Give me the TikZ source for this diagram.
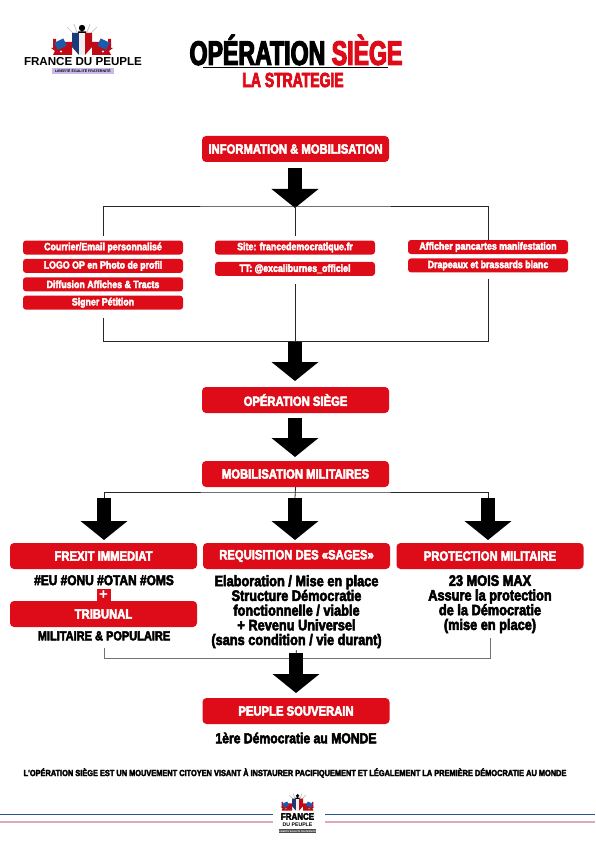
\documentclass[tikz,border=0pt]{standalone}
\usepackage{fontspec}
\usepackage{tikz}
\usetikzlibrary{positioning,arrows.meta,calc}
\setmainfont{Liberation Sans}
\newfontfamily\impact[FakeStretch=0.68,FakeBold=3.5]{Liberation Sans Bold}
\newfontfamily\impactl[FakeStretch=0.84,FakeBold=3.5]{Liberation Sans Bold}
\definecolor{rouge}{RGB}{222,12,24}
\definecolor{bleuflag}{RGB}{28,58,120}
\definecolor{bleuclair}{RGB}{30,90,170}
\definecolor{bleuligne}{RGB}{38,84,140}
\definecolor{roseligne}{RGB}{226,168,186}
\tikzstyle{casella} = [rectangle, rounded corners=4pt, fill=rouge, text=white,
    minimum width=187pt, minimum height=26pt, inner sep=0pt, font=\impactl\fontsize{13.4}{14}\selectfont]
\tikzstyle{petite} = [rectangle, rounded corners=3pt, fill=rouge, text=white,
    minimum width=160pt, minimum height=14pt, inner sep=0pt, font=\impactl\fontsize{10.5}{11}\selectfont]
\tikzstyle{texte} = [align=center, text=black, inner sep=0pt, font=\impactl\fontsize{15.2}{14.7}\selectfont]
\tikzstyle{filet} = [draw=black!85, line width=0.8pt]
\tikzstyle{fleche} = [draw=black, line width=14pt, -{Triangle[width=46pt,length=19pt]}]
\tikzset{
  drapeaux/.pic={
    \draw[black!25, line width=0.7pt] (-4,-8) -- (-8,-19) (4,-8) -- (8,-19) (-7,-8) -- (-15,-16) (7,-8) -- (15,-16);
    \fill[black] (0,-15) circle (3.2) (-4,-9) rectangle (4,-11.5);
    \fill[bleuflag] (-10,-10) -- (-3,-10) -- (-3,12) -- (-10,4) -- cycle;
    \fill[black!6] (-3,-10) rectangle (3,12);
    \fill[rouge!85!black] (3,-10) -- (10,-10) -- (10,4) -- (3,12) -- cycle;
    \foreach \s in {-1,1} {
      \fill[rouge!85!black] (\s*10,-1) -- (\s*19,-1) -- (\s*21,5) -- (\s*10,5) -- cycle;
      \fill[rouge!85!black] (\s*10,5) -- (\s*31,5) -- (\s*27,8) -- (\s*29,12) -- (\s*10,12) -- cycle;
      \fill[white] (\s*21,8.5) circle (1.1);
      \fill[rouge!85!black] (\s*29,-4) -- (\s*26,-4) -- (\s*26,3) -- (\s*20,3) -- (\s*20,5) -- (\s*29,5) -- cycle;
      \fill[bleuclair, rotate=\s*(-25)] ($(\s*20,-8)+(-5,-4)$) rectangle ++(10,8);
    }
  }
}
\begin{document}
\begin{tikzpicture}[x=1pt,y=-1pt]
  \useasboundingbox (0,0) rectangle (595,842);
  % en-tete
  \pic at (82,43) {drapeaux};
  \node [inner sep=0pt, font=\bfseries\fontsize{11.6}{12}\selectfont] (nomhaut) at (83,62) {FRANCE DU PEUPLE};
  \node [fill=roseligne!60!blue!45, minimum width=62pt, minimum height=6pt, inner sep=0pt,
    font=\bfseries\fontsize{3.6}{4}\selectfont] (devisehaut) at (83,71) {LIBERTÉ ÉGALITÉ FRATERNITÉ};
  \node [inner sep=0pt, font=\impact\fontsize{34}{36}\selectfont] (titre) at (296,50)
    {OPÉRATION \textcolor{rouge}{SIÈGE}};
  \coordinate (titreg) at (203,67);
  \coordinate (titred) at (388,67);
  \draw [black, line width=0.8pt] (titreg) -- (titred);
  \node [inner sep=0pt, text=rouge, font=\impact\fontsize{20.5}{22}\selectfont] (strategie) at (293,80) {LA STRATEGIE};

  \node [casella] (info) at (295.5,149) {INFORMATION \& MOBILISATION};
  \coordinate (fl1a) at (295,168);
  \coordinate (fl1b) at (295,208);
  \draw [fleche] (fl1a) -- (fl1b);
  \coordinate (fourche1) at (295,206);

  % trois colonnes
  \node [petite] (courrier) at (103,247.5) {Courrier/Email personnalisé};
  \node [petite, below=4pt of courrier] (logo) {LOGO OP en Photo de profil};
  \node [petite, below=4pt of logo] (diffusion) {Diffusion Affiches \& Tracts};
  \node [petite, below=4pt of diffusion] (signer) {Signer Pétition};
  \node [petite] (site) at (295,247.5) {Site: francedemocratique.fr};
  \node [petite, below=7pt of site] (tt) {TT: @excaliburnes\_officiel};
  \node [petite] (afficher) at (488,247) {Afficher pancartes manifestation};
  \node [petite, below=4pt of afficher] (brassards) {Drapeaux et brassards blanc};

  \draw [filet, shorten <=4pt] (courrier.north) |- (fourche1) -| (afficher.north);
  \draw [filet, shorten <=4pt] (site.north) -- (fourche1);
  \coordinate (joint1) at (295,341.5);
  \draw [filet, shorten <=8pt] (signer.south) |- (joint1);
  \draw [filet, shorten <=6pt] (brassards.south) |- (joint1);
  \draw [filet, shorten <=8pt] (tt.south) -- (joint1);

  \coordinate (fl2a) at (295,342);
  \coordinate (fl2b) at (295,381);
  \draw [fleche] (fl2a) -- (fl2b);
  \node [casella] (siege) at (295.5,400) {OPÉRATION SIÈGE};
  \coordinate (fl3a) at (295,418);
  \coordinate (fl3b) at (295,457);
  \draw [fleche] (fl3a) -- (fl3b);
  \node [casella] (militaires) at (295.5,474) {MOBILISATION MILITAIRES};

  \coordinate (fourche2) at (295,492);
  \coordinate (fl4a) at (104,498);
  \coordinate (fl4b) at (104,540);
  \coordinate (fl5a) at (295,498);
  \coordinate (fl5b) at (295,540);
  \coordinate (fl6a) at (488,498);
  \coordinate (fl6b) at (488,540);
  \draw [filet] (fl4a) |- (fourche2) -| (fl6a);
  \draw [filet] (militaires.south) -- (fl5a);
  \draw [fleche] (fl4a) -- (fl4b);
  \draw [fleche] (fl5a) -- (fl5b);
  \draw [fleche] (fl6a) -- (fl6b);

  \node [casella] (frexit) at (103.5,556) {FREXIT IMMEDIAT};
  \node [casella] (sages) at (296.5,556) {REQUISITION DES «SAGES»};
  \node [casella] (protection) at (490,556) {PROTECTION MILITAIRE};

  \node [texte, anchor=north, font=\impactl\fontsize{14.2}{14.7}\selectfont] (sigles) at (104,575) {\#EU \#ONU \#OTAN \#OMS};
  \node [fill=rouge, text=white, minimum width=14pt, minimum height=12pt, inner sep=0pt,
    font=\bfseries\fontsize{15}{15}\selectfont] (plus) at (103.5,595) {+};
  \node [casella] (tribunal) at (103.5,614) {TRIBUNAL};
  \node [texte, anchor=north, font=\impactl\fontsize{13.1}{14.7}\selectfont] (populaire) at (104,631) {MILITAIRE \& POPULAIRE};
  \node [texte, anchor=north] (elaboration) at (296.5,575) {Elaboration / Mise en place\\Structure Démocratie\\fonctionnelle / viable\\+ Revenu Universel\\(sans condition / vie durant)};
  \node [texte, anchor=north] (mois) at (490,575) {23 MOIS MAX\\Assure la protection\\de la Démocratie\\(mise en place)};

  \coordinate (joint2) at (296,658);
  \draw [filet, draw=black!55, shorten <=7pt] (populaire.south) |- (joint2);
  \draw [filet, draw=black!55, shorten <=5pt] (mois.south) |- (joint2);
  \draw [filet, shorten <=2pt] (elaboration.south) -- (joint2);
  \coordinate (fl7a) at (296,653);
  \coordinate (fl7b) at (296,693);
  \draw [fleche] (fl7a) -- (fl7b);
  \node [casella] (souverain) at (296,711) {PEUPLE SOUVERAIN};
  \node [texte, font=\impactl\fontsize{14.5}{15}\selectfont] (democratie) at (296,738) {1ère Démocratie au MONDE};
  \node [inner sep=0pt, font=\impactl\fontsize{8.8}{9}\selectfont] (phrase) at (295,773)
    {L'OPÉRATION SIÈGE EST UN MOUVEMENT CITOYEN VISANT À INSTAURER PACIFIQUEMENT ET LÉGALEMENT LA PREMIÈRE DÉMOCRATIE AU MONDE};

  % pied de page
  \coordinate (bg) at (0,814);
  \coordinate (bf) at (273,814);
  \coordinate (bh) at (325,814);
  \coordinate (bd) at (595,814);
  \coordinate (rg) at (0,821.5);
  \coordinate (rf) at (273,821.5);
  \coordinate (rh) at (325,821.5);
  \coordinate (rd) at (595,821.5);
  \draw [bleuligne, line width=1pt] (bg) -- (bf) (bh) -- (bd);
  \draw [roseligne, line width=2pt] (rg) -- (rf) (rh) -- (rd);
  \pic [scale=0.55] at (297.5,804) {drapeaux};
  \node [inner sep=0pt, font=\impactl\fontsize{9.5}{9.5}\selectfont] (nombas) at (297.5,816.5) {FRANCE};
  \node [inner sep=0pt, font=\bfseries\fontsize{5.2}{5.2}\selectfont] (peuplebas) at (297.5,825) {DU PEUPLE};
  \node [fill=black!70, text=white, minimum width=36pt, minimum height=3.5pt, inner sep=0pt,
    font=\bfseries\fontsize{2.4}{3}\selectfont] (devisebas) at (297.5,831) {LIBERTÉ ÉGALITÉ FRATERNITÉ};
\end{tikzpicture}
\end{document}
